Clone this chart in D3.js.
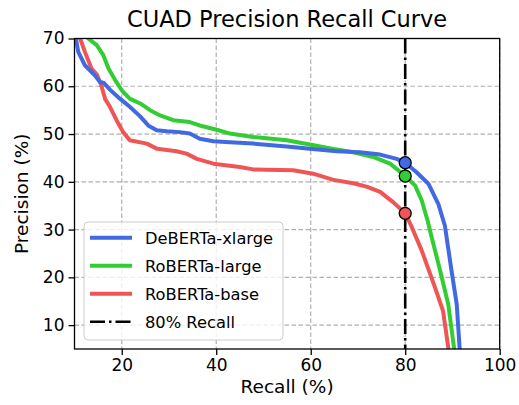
<!DOCTYPE html>
<html>
<head>
<meta charset="utf-8">
<script src="https://cdn.jsdelivr.net/npm/d3@7"></script>
<style>
  body { margin: 0; background: #fff; }
  svg text { font-family: "DejaVu Sans", sans-serif; fill: #000; }
</style>
</head>
<body>
<div id="chart"></div>
<script>
// chart values
var deberta_recall = [10.1, 10.3, 10.8, 12.2, 14.3, 15.4, 16.2, 17.5, 19.6, 20.0, 21.7, 23.9, 25.6, 27.4, 29.5, 32.3, 34.4, 36.5, 39.4, 42.9, 47.8, 54.9, 59.8, 65.5, 70.4, 74.7, 78.2, 80.0, 82.4, 84.9, 87.0, 88.4, 89.8, 90.9, 91.6];
var deberta_prec   = [72.0, 70.0, 67.2, 64.4, 62.3, 60.9, 60.7, 59.3, 57.4, 57.1, 55.7, 53.7, 51.8, 50.8, 50.6, 50.4, 50.1, 49.0, 48.5, 48.3, 48.0, 47.4, 46.9, 46.4, 46.2, 45.7, 44.8, 44.0, 42.0, 39.6, 35.4, 30.8, 21.4, 14.4, 4.0];

var rlarge_recall = [12.5, 12.9, 14.7, 16.1, 17.2, 18.6, 20.0, 20.3, 21.7, 23.9, 26.0, 28.1, 30.9, 34.4, 36.5, 40.1, 42.9, 47.8, 54.9, 59.8, 64.8, 69.0, 73.2, 76.8, 80.0, 82.1, 83.5, 84.7, 85.6, 87.4, 89.1, 90.5];
var rlarge_prec   = [71.0, 70.0, 68.6, 66.5, 63.7, 61.3, 59.2, 58.8, 57.4, 56.4, 55.0, 53.9, 52.9, 52.5, 51.8, 50.9, 50.1, 49.4, 48.7, 47.8, 46.9, 46.2, 45.2, 43.8, 41.2, 39.2, 36.1, 32.0, 28.4, 21.4, 14.4, 4.0];

var rbase_recall = [10.9, 11.2, 12.2, 13.6, 14.7, 15.6, 16.5, 17.5, 18.9, 20.3, 21.7, 25.3, 27.5, 31.6, 33.7, 35.9, 39.4, 45.0, 47.8, 56.3, 60.5, 64.8, 69.0, 71.8, 74.7, 77.5, 80.0, 81.4, 83.5, 86.3, 88.0, 89.3];
var rbase_prec   = [71.0, 70.0, 67.2, 63.7, 62.5, 60.4, 57.3, 55.7, 52.9, 50.4, 48.7, 48.0, 46.9, 46.4, 45.9, 44.8, 43.8, 43.1, 42.6, 42.4, 41.7, 40.4, 39.7, 39.0, 37.9, 35.7, 33.4, 30.5, 25.6, 17.9, 13.0, 4.0];

var model_names = ["DeBERTa-xlarge", "RoBERTa-large", "RoBERTa-base"];
var model_colors = ["#4169e1", "#32cd32", "#f05555"];
var recall_at = 80;
var prec_at_80 = [44.0, 41.2, 33.4];

var x_ticks = [20, 40, 60, 80, 100];
var y_ticks = [10, 20, 30, 40, 50, 60, 70];

var svgWidth = 519;
var svgHeight = 405;

var margin = { top: 38.5, right: 19.3, bottom: 56, left: 74.5 };
var width = svgWidth - margin.left - margin.right;
var height = svgHeight - margin.top - margin.bottom;

var svg = d3.select("#chart")
  .append("svg")
  .attr("width", svgWidth)
  .attr("height", svgHeight);

var chartGroup = svg.append("g")
  .attr("transform", `translate(${margin.left}, ${margin.top})`);

var x = d3.scaleLinear().domain([10, 100]).range([0, width]);
var y = d3.scaleLinear().domain([5, 70]).range([height, 0]);

svg.append("defs").append("clipPath")
  .attr("id", "plotclip")
  .append("rect")
  .attr("width", width)
  .attr("height", height);

// grid
var grid = chartGroup.append("g");
grid.selectAll(".vgrid")
  .data(x_ticks)
  .enter()
  .append("line")
  .attr("x1", d => x(d)).attr("x2", d => x(d))
  .attr("y1", 0).attr("y2", height)
  .attr("stroke", "#b0b0b0")
  .attr("stroke-width", 1.2)
  .attr("stroke-dasharray", "4.5,2.5");
grid.selectAll(".hgrid")
  .data(y_ticks)
  .enter()
  .append("line")
  .attr("x1", 0).attr("x2", width)
  .attr("y1", d => y(d)).attr("y2", d => y(d))
  .attr("stroke", "#b0b0b0")
  .attr("stroke-width", 1.2)
  .attr("stroke-dasharray", "4.5,2.5");

// curves
var series = [
  { recall: deberta_recall, prec: deberta_prec },
  { recall: rlarge_recall, prec: rlarge_prec },
  { recall: rbase_recall, prec: rbase_prec }
];

var line = d3.line()
  .x(d => x(d[0]))
  .y(d => y(d[1]));

var curves = chartGroup.append("g").attr("clip-path", "url(#plotclip)");
// draw red first, blue on top
[2, 1, 0].forEach(function(i) {
  var pts = series[i].recall.map((r, j) => [r, series[i].prec[j]]);
  curves.append("path")
    .datum(pts)
    .attr("fill", "none")
    .attr("stroke", model_colors[i])
    .attr("stroke-width", 4)
    .attr("stroke-linejoin", "round")
    .attr("d", line);
});

// 80% recall line
chartGroup.append("line")
  .attr("x1", x(recall_at)).attr("x2", x(recall_at))
  .attr("y1", 0).attr("y2", height)
  .attr("stroke", "#000")
  .attr("stroke-width", 2.6)
  .attr("stroke-dasharray", "15,4,2.5,4");

// markers
chartGroup.selectAll(".marker")
  .data(prec_at_80)
  .enter()
  .append("circle")
  .attr("cx", x(recall_at))
  .attr("cy", d => y(d))
  .attr("r", 6)
  .attr("fill", (d, i) => model_colors[i])
  .attr("stroke", "#000")
  .attr("stroke-width", 1.3);

// axes
var bottomAxis = d3.axisBottom(x).tickValues(x_ticks).tickSize(6).tickPadding(4);
var leftAxis = d3.axisLeft(y).tickValues(y_ticks).tickSize(6).tickPadding(4);

var xAxis = chartGroup.append("g")
  .attr("transform", `translate(0, ${height})`)
  .call(bottomAxis);
var yAxis = chartGroup.append("g")
  .call(leftAxis);

[xAxis, yAxis].forEach(function(a) {
  a.select(".domain").remove();
  a.selectAll(".tick line").attr("stroke", "#000").attr("stroke-width", 1.3);
  a.selectAll(".tick text").style("font-size", "17px").attr("fill", "#000");
});

// spines
chartGroup.append("rect")
  .attr("width", width)
  .attr("height", height)
  .attr("fill", "none")
  .attr("stroke", "#000")
  .attr("stroke-width", 1.3);

// labels
svg.append("text")
  .attr("x", margin.left + width / 2)
  .attr("y", 27)
  .attr("text-anchor", "middle")
  .style("font-size", "22.5px")
  .text("CUAD Precision Recall Curve");

svg.append("text")
  .attr("x", margin.left + width / 2)
  .attr("y", 393)
  .attr("text-anchor", "middle")
  .style("font-size", "18.5px")
  .text("Recall (%)");

svg.append("text")
  .attr("transform", `translate(28, ${margin.top + height / 2}) rotate(-90)`)
  .attr("text-anchor", "middle")
  .style("font-size", "18.5px")
  .text("Precision (%)");

// legend
var legend = svg.append("g").attr("transform", "translate(84, 222)");
legend.append("rect")
  .attr("width", 199)
  .attr("height", 118)
  .attr("rx", 4)
  .attr("fill", "#fff")
  .attr("fill-opacity", 0.8)
  .attr("stroke", "#cccccc")
  .attr("stroke-width", 1);

var legendNames = model_names.concat(["80% Recall"]);
legendNames.forEach(function(name, i) {
  var ly = 15.7 + i * 28;
  var ln = legend.append("line")
    .attr("x1", 6).attr("x2", 48)
    .attr("y1", ly).attr("y2", ly)
    .attr("stroke-width", 4);
  if (i < 3) {
    ln.attr("stroke", model_colors[i]);
  } else {
    ln.attr("stroke", "#000").attr("stroke-width", 2.6).attr("stroke-dasharray", "15,4,2.5,4");
  }
  legend.append("text")
    .attr("x", 61)
    .attr("y", ly)
    .attr("dy", "0.36em")
    .style("font-size", "16.3px")
    .text(name);
});
</script>
</body>
</html>
